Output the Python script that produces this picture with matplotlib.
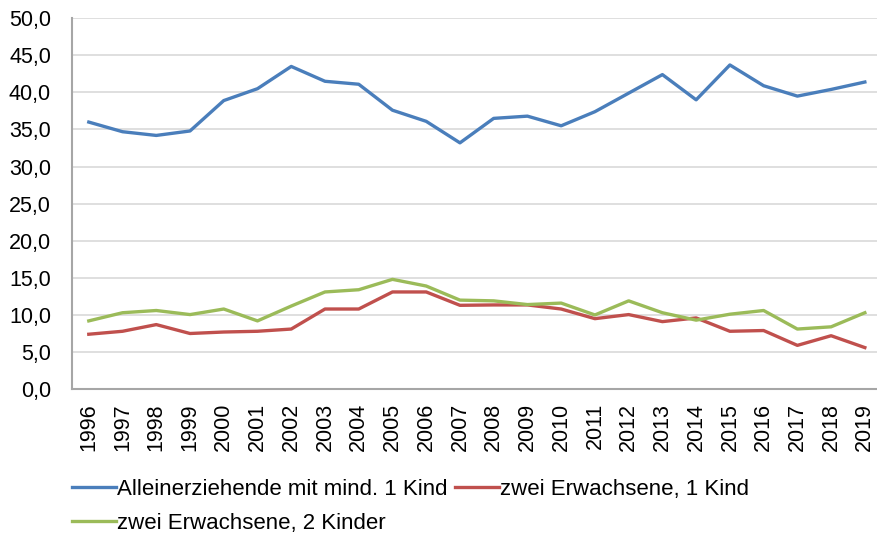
import matplotlib.pyplot as plt

years = [str(y) for y in range(1996, 2020)]
allein = [36.0, 34.7, 34.2, 34.8, 38.9, 40.5, 43.5, 41.5, 41.1, 37.6, 36.1, 33.2,
          36.5, 36.8, 35.5, 37.4, 39.9, 42.4, 39.0, 43.7, 40.9, 39.5, 40.4, 41.4]
zwei_1 = [7.4, 7.8, 8.7, 7.5, 7.7, 7.8, 8.1, 10.8, 10.8, 13.1, 13.1, 11.3,
          11.35, 11.35, 10.8, 9.5, 10.05, 9.1, 9.6, 7.8, 7.9, 5.9, 7.2, 5.6]
zwei_2 = [9.2, 10.3, 10.6, 10.05, 10.8, 9.2, 11.2, 13.1, 13.4, 14.8, 13.9, 12.0,
          11.9, 11.4, 11.6, 10.0, 11.9, 10.3, 9.3, 10.1, 10.6, 8.1, 8.4, 10.3]
yticks = [0, 5, 10, 15, 20, 25, 30, 35, 40, 45, 50]
names = ["Alleinerziehende mit mind. 1 Kind", "zwei Erwachsene, 1 Kind", "zwei Erwachsene, 2 Kinder"]

plt.rcParams["font.family"] = ["Liberation Sans", "DejaVu Sans"]

fig = plt.figure(figsize=(8.77, 5.36), dpi=100)
ax = fig.add_axes([0.082, 0.274, 0.918, 0.692])
x = range(len(years))
l1, = ax.plot(x, allein, color="#4a7ebb", lw=2.4)
l2, = ax.plot(x, zwei_1, color="#c0504d", lw=2.4)
l3, = ax.plot(x, zwei_2, color="#9bbb59", lw=2.4)

ax.set_ylim(0, 50)
ax.set_xlim(-0.5, 23.36)
ax.set_yticks(yticks)
ax.set_yticklabels([f"{v:.1f}".replace(".", ",") for v in yticks], fontsize=15.5)
ax.set_xticks(list(x))
ax.set_xticklabels(years, rotation=90, fontsize=15.5)
ax.tick_params(axis="y", length=0, pad=15)
ax.tick_params(axis="x", length=0, pad=10)
ax.grid(axis="y", color="#d9d9d9", lw=1.2)
ax.set_axisbelow(True)
for s in ("top", "right"):
    ax.spines[s].set_visible(False)
for s in ("left", "bottom"):
    ax.spines[s].set_color("#a6a6a6")
    ax.spines[s].set_linewidth(1.5)

fig.legend([l1, l3, l2], [names[0], names[2], names[1]], ncol=2, loc="upper left",
           bbox_to_anchor=(0.082, 0.107), frameon=False, handlelength=2.0,
           handletextpad=0.05, columnspacing=0.3, labelspacing=0.6,
           borderpad=0, borderaxespad=0, fontsize=16)

fig.savefig("out.png", dpi=100)
